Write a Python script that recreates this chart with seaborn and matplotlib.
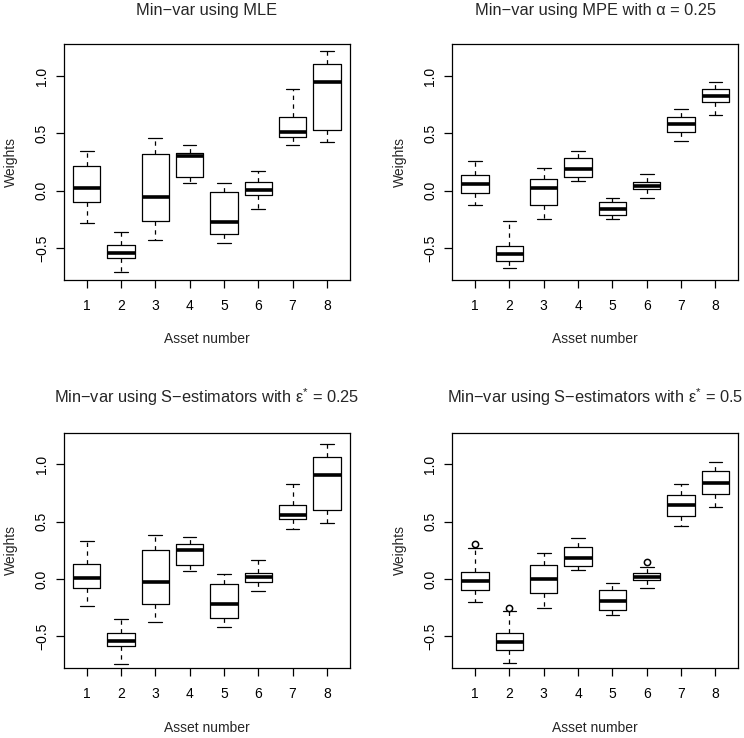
import matplotlib
matplotlib.use("Agg")
import matplotlib.pyplot as plt
import seaborn as sns
import pandas as pd
import numpy as np

assets = ["1", "2", "3", "4", "5", "6", "7", "8"]

# Five-number summaries (lower whisker, Q1, median, Q3, upper whisker)
mle_lo = [-0.285, -0.710, -0.430, 0.070, -0.459, -0.163, 0.400, 0.421]
mle_q1 = [-0.096, -0.590, -0.264, 0.122, -0.380, -0.035, 0.465, 0.531]
mle_med = [0.020, -0.540, -0.058, 0.300, -0.276, 0.009, 0.514, 0.950]
mle_q3 = [0.215, -0.473, 0.320, 0.328, -0.015, 0.075, 0.642, 1.109]
mle_hi = [0.350, -0.357, 0.456, 0.395, 0.070, 0.171, 0.883, 1.220]

mpe_lo = [-0.125, -0.674, -0.247, 0.081, -0.247, -0.061, 0.430, 0.662]
mpe_q1 = [-0.017, -0.616, -0.125, 0.119, -0.209, 0.017, 0.511, 0.772]
mpe_med = [0.058, -0.552, 0.020, 0.186, -0.163, 0.044, 0.581, 0.830]
mpe_q3 = [0.134, -0.479, 0.099, 0.287, -0.100, 0.073, 0.645, 0.888]
mpe_hi = [0.261, -0.267, 0.200, 0.346, -0.064, 0.142, 0.714, 0.949]

s25_lo = [-0.235, -0.737, -0.377, 0.073, -0.418, -0.107, 0.436, 0.488]
s25_q1 = [-0.075, -0.587, -0.218, 0.122, -0.343, -0.029, 0.520, 0.601]
s25_med = [0.006, -0.543, -0.029, 0.253, -0.221, 0.020, 0.563, 0.906]
s25_q3 = [0.128, -0.470, 0.256, 0.302, -0.044, 0.055, 0.650, 1.066]
s25_hi = [0.328, -0.348, 0.386, 0.369, 0.044, 0.163, 0.825, 1.179]

s50_lo = [-0.203, -0.729, -0.256, 0.081, -0.311, -0.075, 0.462, 0.630]
s50_q1 = [-0.099, -0.616, -0.125, 0.116, -0.267, -0.006, 0.549, 0.743]
s50_med = [-0.020, -0.546, -0.003, 0.186, -0.195, 0.020, 0.650, 0.842]
s50_q3 = [0.061, -0.473, 0.122, 0.279, -0.096, 0.055, 0.732, 0.944]
s50_hi = [0.270, -0.279, 0.226, 0.357, -0.032, 0.105, 0.825, 1.025]

# Outlying points in the last panel
s50_out_asset = ["1", "2", "6"]
s50_out_value = [0.305, -0.253, 0.145]

titles = [
    "Min\u2212var using MLE",
    "Min\u2212var using MPE with \u03b1 = 0.25",
    "Min\u2212var using S\u2212estimators with \u03b5$^{*}$ = 0.25",
    "Min\u2212var using S\u2212estimators with \u03b5$^{*}$ = 0.5",
]
y_ticks = [-0.5, 0.0, 0.5, 1.0]
y_tick_labels = ["\u22120.5", "0.0", "0.5", "1.0"]


def summary_frame(lo, q1, med, q3, hi):
    # five values per asset -> quartiles of those values are exactly q1, med, q3
    rows = []
    for i, a in enumerate(assets):
        for v in (lo[i], q1[i], med[i], q3[i], hi[i]):
            rows.append({"asset": a, "weight": v})
    return pd.DataFrame(rows)


panels = [
    summary_frame(mle_lo, mle_q1, mle_med, mle_q3, mle_hi),
    summary_frame(mpe_lo, mpe_q1, mpe_med, mpe_q3, mpe_hi),
    summary_frame(s25_lo, s25_q1, s25_med, s25_q3, s25_hi),
    summary_frame(s50_lo, s50_q1, s50_med, s50_q3, s50_hi),
]
outliers = pd.DataFrame({"asset": s50_out_asset, "weight": s50_out_value})

sns.set_style("ticks")
plt.rcParams["font.family"] = ["Liberation Sans", "DejaVu Sans"]
plt.rcParams["mathtext.fontset"] = "custom"
plt.rcParams["mathtext.rm"] = "Liberation Sans"

fig, axes = plt.subplots(2, 2, figsize=(7.44, 7.38), dpi=100)
plt.subplots_adjust(left=0.086, right=0.992, bottom=0.095, top=0.940,
                    wspace=0.36, hspace=0.651)

lw = 0.9
for k, ax in enumerate(axes.flat):
    sns.boxplot(data=panels[k], x="asset", y="weight", order=assets,
                whis=np.inf, width=0.8, fill=False, color="black",
                linewidth=lw,
                medianprops={"linewidth": 2.6, "color": "black"},
                whiskerprops={"linestyle": (0, (3.5, 3.5)), "color": "black"},
                capprops={"color": "black"},
                ax=ax)
    if k == 3:
        sns.stripplot(data=outliers, x="asset", y="weight", order=assets,
                      jitter=False, color="white", edgecolor="black",
                      linewidth=1.1, size=4.5, ax=ax, zorder=5)

    ax.set_xlim(-0.66, 7.66)
    ax.set_ylim(-0.775, 1.277)
    ax.set_yticks(y_ticks)
    ax.set_yticklabels(y_tick_labels, rotation=90, va="center")
    ax.set_title(titles[k], fontsize=11.8, pad=21)
    ax.set_xlabel("Asset number", fontsize=10, labelpad=14)
    ax.set_ylabel("Weights", fontsize=10, labelpad=12)
    ax.tick_params(axis="both", direction="out", length=5.8, width=lw,
                   color="black", labelsize=10, labelcolor="black")
    ax.tick_params(axis="x", pad=8)
    ax.tick_params(axis="y", pad=5)
    for s in ax.spines.values():
        s.set_visible(True)
        s.set_color("black")
        s.set_linewidth(lw)

fig.savefig("out.png", dpi=100)
